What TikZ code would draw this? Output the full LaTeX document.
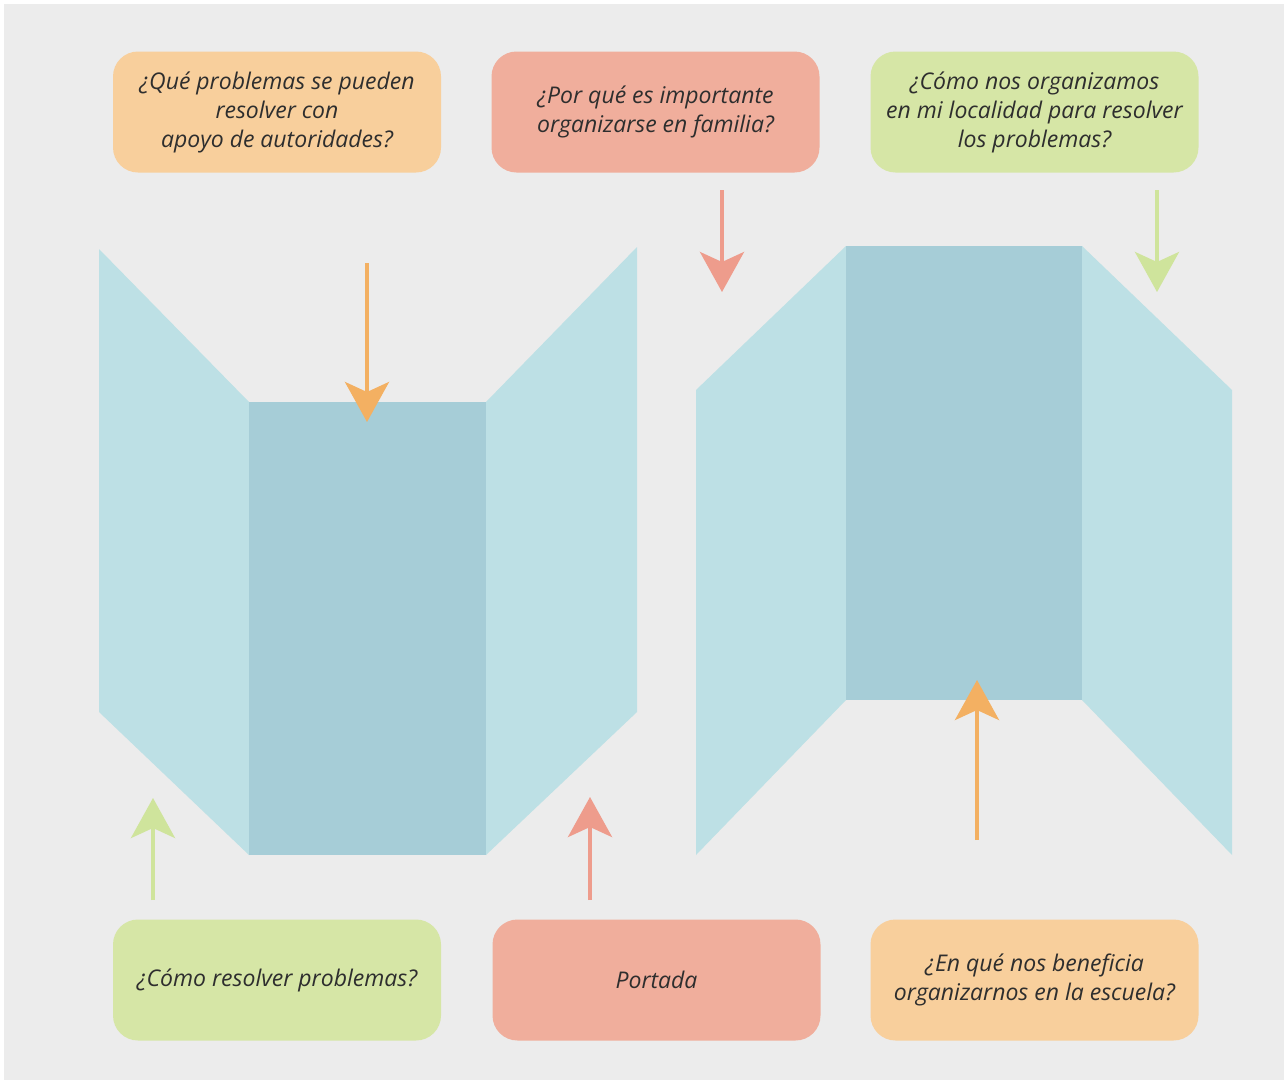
\documentclass[tikz,border=0pt]{standalone}
\usepackage{fontspec}
\setmainfont{Open Sans}
\usetikzlibrary{arrows.meta}
\definecolor{peach}{HTML}{F8CF9C}
\definecolor{salmon}{HTML}{F0AE9C}
\definecolor{lime}{HTML}{D6E6A6}
\definecolor{flap}{HTML}{BDE0E5}
\definecolor{panel}{HTML}{A6CDD7}
\definecolor{arrorange}{HTML}{F3B062}
\definecolor{arrsalmon}{HTML}{EE9C8C}
\definecolor{arrgreen}{HTML}{CFE49C}
\definecolor{paper}{HTML}{ECECEC}
\definecolor{ink}{HTML}{2E2E2E}
\begin{document}
\begin{tikzpicture}[x=1pt, y=-1pt, every node/.style={font=\fontsize{23}{29}\selectfont\itshape},
    qbox/.style={rounded corners=25pt, minimum width=328pt, minimum height=121pt, align=center, text=ink},
    tip/.style={line width=4pt, -{Stealth[length=40pt, width=44pt, inset=10pt]}}]
    \useasboundingbox (0,0) rectangle (1288,1082);
    \fill [white] (0,0) rectangle (1288,1082);
    \fill [paper] (4,4) rectangle (1284,1080);
    % left brochure
    \fill [flap] (99,249) -- (249,402) -- (249,855) -- (99,712) -- cycle;
    \fill [panel] (249,402) rectangle (486,855);
    \fill [flap] (486,402) -- (637,247) -- (637,712) -- (486,855) -- cycle;
    % right brochure
    \fill [flap] (696,390) -- (846,246) -- (846,700) -- (696,855) -- cycle;
    \fill [panel] (846,246) rectangle (1082,700);
    \fill [flap] (1082,246) -- (1232,390) -- (1232,855) -- (1082,700) -- cycle;
    % question boxes
    \node [qbox, fill=peach] (autoridades) at (277,112) {¿Qué problemas se pueden\\resolver con\\apoyo de autoridades?};
    \node [qbox, fill=salmon] (familia) at (655.5,112) {¿Por qué es importante\\organizarse en familia?};
    \node [qbox, fill=lime] (localidad) at (1034.5,112) {¿Cómo nos organizamos\\en mi localidad para resolver\\los problemas?};
    \node [qbox, fill=lime] (resolver) at (277,980) {¿Cómo resolver problemas?};
    \node [qbox, fill=salmon] (portada) at (656.5,980) {Portada};
    \node [qbox, fill=peach] (escuela) at (1034.5,980) {¿En qué nos beneficia\\organizarnos en la escuela?};
    % arrow ends
    \coordinate (autoridades-s) at (367,263);
    \coordinate (autoridades-e) at (367,422);
    \coordinate (familia-s) at (722,190);
    \coordinate (familia-e) at (722,292);
    \coordinate (localidad-s) at (1157,190);
    \coordinate (localidad-e) at (1157,292);
    \coordinate (resolver-s) at (153,900);
    \coordinate (resolver-e) at (153,798);
    \coordinate (portada-s) at (590,900);
    \coordinate (portada-e) at (590,797);
    \coordinate (escuela-s) at (977,840);
    \coordinate (escuela-e) at (977,680);
    \draw [tip, arrorange] (autoridades-s) -- (autoridades-e);
    \draw [tip, arrsalmon] (familia-s) -- (familia-e);
    \draw [tip, arrgreen] (localidad-s) -- (localidad-e);
    \draw [tip, arrgreen] (resolver-s) -- (resolver-e);
    \draw [tip, arrsalmon] (portada-s) -- (portada-e);
    \draw [tip, arrorange] (escuela-s) -- (escuela-e);
\end{tikzpicture}
\end{document}
